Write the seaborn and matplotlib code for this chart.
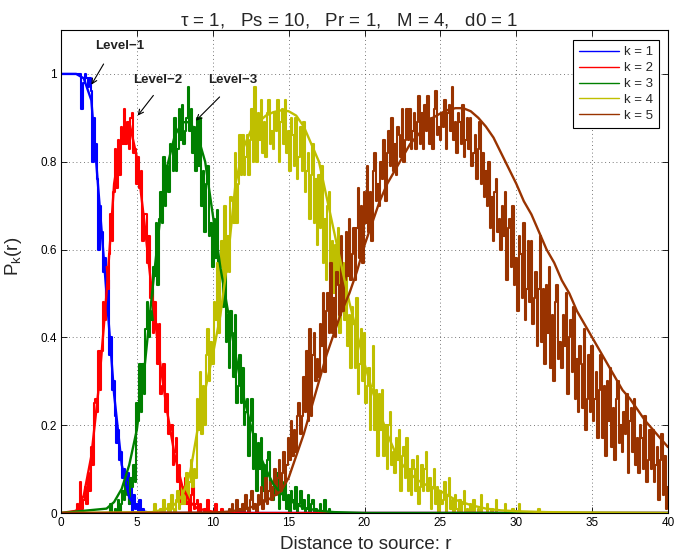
import numpy as np
import matplotlib
matplotlib.use('Agg')
import matplotlib.pyplot as plt
import seaborn as sns

# theory curves P_k(r)
r_th1 = [0, 0.5, 1, 1.5, 2, 2.5, 3, 3.5, 4, 4.5, 5, 5.5, 6, 40]
p_th1 = [1, 1, 1, 0.99, 0.94, 0.72, 0.50, 0.27, 0.11, 0.035, 0.01, 0.003, 0, 0]

r_th2 = [0, 1, 1.5, 2, 2.5, 3, 3.5, 4, 4.5, 5, 5.5, 6, 6.5, 7, 7.5, 8, 8.5, 9, 10, 11, 40]
p_th2 = [0, 0.005, 0.04, 0.13, 0.29, 0.50, 0.75, 0.86, 0.89, 0.81, 0.66, 0.50, 0.35, 0.23,
         0.13, 0.06, 0.025, 0.01, 0.003, 0, 0]

r_th3 = [0, 3, 3.5, 4, 4.5, 5, 5.5, 6, 6.5, 7, 7.5, 8, 8.5, 9, 9.5, 10, 10.5, 11, 11.5,
         12, 12.5, 13, 13.5, 14, 14.5, 15, 15.5, 16, 17, 18, 20, 40]
p_th3 = [0, 0.01, 0.025, 0.055, 0.11, 0.19, 0.33, 0.50, 0.66, 0.79, 0.86, 0.89, 0.89,
         0.86, 0.80, 0.68, 0.56, 0.46, 0.36, 0.27, 0.20, 0.14, 0.10, 0.065, 0.045, 0.03,
         0.02, 0.012, 0.005, 0.002, 0, 0]

r_th4 = [0, 6, 7, 7.5, 8, 8.5, 9, 9.5, 10, 10.5, 11, 11.5, 12, 12.5, 13, 13.5, 14, 14.5,
         15, 15.5, 16, 16.5, 17, 17.5, 18, 18.5, 19, 19.5, 20, 20.5, 21, 21.5, 22, 22.5,
         23, 23.5, 24, 24.5, 25, 26, 27, 28, 29, 30, 32, 35, 40]
p_th4 = [0, 0.002, 0.01, 0.02, 0.04, 0.09, 0.19, 0.28, 0.36, 0.45, 0.58, 0.75, 0.83,
         0.87, 0.89, 0.905, 0.913, 0.917, 0.915, 0.905, 0.88, 0.84, 0.80, 0.72, 0.64,
         0.56, 0.48, 0.41, 0.34, 0.28, 0.23, 0.18, 0.14, 0.11, 0.09, 0.075, 0.065, 0.057,
         0.05, 0.03, 0.018, 0.01, 0.006, 0.004, 0.002, 0.001, 0]

r_th5 = [0, 10, 11, 12, 13, 13.5, 14, 14.5, 15, 15.5, 16, 16.5, 17, 17.5, 18, 18.5, 19,
         19.5, 20, 20.5, 21, 21.5, 22, 22.5, 23, 23.5, 24, 24.5, 25, 25.5, 26, 26.5, 27,
         27.5, 28, 28.5, 29, 29.5, 30, 30.5, 31, 31.5, 32, 32.5, 33, 33.5, 34, 34.5, 35,
         35.5, 36, 36.5, 37, 37.5, 38, 38.5, 39, 39.5, 40]
p_th5 = [0, 0.001, 0.003, 0.008, 0.018, 0.027, 0.038, 0.05, 0.08, 0.13, 0.18, 0.24,
         0.30, 0.36, 0.41, 0.46, 0.50, 0.55, 0.61, 0.66, 0.71, 0.75, 0.78, 0.81, 0.84,
         0.86, 0.88, 0.90, 0.91, 0.918, 0.922, 0.922, 0.915, 0.90, 0.88, 0.855, 0.82,
         0.785, 0.75, 0.71, 0.68, 0.64, 0.60, 0.57, 0.53, 0.50, 0.46, 0.43, 0.40, 0.37,
         0.34, 0.31, 0.28, 0.26, 0.235, 0.21, 0.19, 0.17, 0.15]

# simulation curves, one sample every 0.1 starting at r_start (one row per unit of r)
sim_step = 0.1

r_start1 = 0.0
p_sim1 = [1, 1, 1, 1, 1, 1, 1, 1, 1, 1,
          1, 1, 1, 1, 0.92, 0.98, 1, 0.99, 0.97, 0.99,
          0.96, 0.80, 0.90, 0.84, 0.76, 0.60, 0.70, 0.64, 0.55, 0.58,
          0.46, 0.53, 0.36, 0.40, 0.28, 0.30, 0.22, 0.16, 0.19, 0.12,
          0.14, 0.08, 0.10, 0.05, 0.09, 0.02, 0.06, 0.0, 0.04, 0.01,
          0.02, 0.0, 0.03, 0.0, 0.01, 0.0, 0.0, 0.0, 0.0, 0.0,
          0.0]

r_start2 = 1.0
p_sim2 = [0.0, 0.02, 0.0, 0.07, 0.01, 0.03, 0.06, 0.02, 0.09, 0.05,
          0.15, 0.11, 0.25, 0.26, 0.23, 0.37, 0.28, 0.37, 0.48, 0.44,
          0.56, 0.51, 0.59, 0.68, 0.62, 0.73, 0.83, 0.74, 0.85, 0.77,
          0.88, 0.84, 0.92, 0.84, 0.89, 0.83, 0.90, 0.91, 0.82, 0.83,
          0.75, 0.81, 0.74, 0.78, 0.62, 0.68, 0.68, 0.57, 0.63, 0.49,
          0.51, 0.41, 0.48, 0.43, 0.34, 0.43, 0.27, 0.29, 0.34, 0.23,
          0.27, 0.18, 0.19, 0.20, 0.11, 0.14, 0.17, 0.07, 0.11, 0.02,
          0.06, 0.03, 0.08, 0.02, 0.05, 0.0, 0.04, 0.06, 0.01, 0.02,
          0.03, 0.0, 0.02, 0.0, 0.0, 0.01, 0.0, 0.03, 0.0, 0.0,
          0.0, 0.0, 0.02, 0.0, 0.0, 0.0, 0.01, 0.0, 0.0, 0.0,
          0.0]

r_start3 = 3.0
p_sim3 = [0.0, 0.0, 0.0, 0.02, 0.0, 0.0, 0.01, 0.0, 0.03, 0.0,
          0.02, 0.05, 0.03, 0.07, 0.04, 0.02, 0.08, 0.06, 0.11, 0.07,
          0.25, 0.21, 0.34, 0.23, 0.34, 0.27, 0.42, 0.48, 0.40, 0.46,
          0.44, 0.56, 0.54, 0.66, 0.52, 0.67, 0.73, 0.66, 0.81, 0.70,
          0.79, 0.73, 0.84, 0.83, 0.78, 0.90, 0.78, 0.83, 0.92, 0.85,
          0.93, 0.84, 0.87, 0.90, 0.97, 0.87, 0.92, 0.82, 0.88, 0.78,
          0.90, 0.79, 0.90, 0.70, 0.78, 0.64, 0.75, 0.79, 0.63, 0.66,
          0.56, 0.67, 0.58, 0.69, 0.44, 0.57, 0.61, 0.47, 0.60, 0.39,
          0.45, 0.33, 0.46, 0.41, 0.31, 0.45, 0.25, 0.29, 0.36, 0.25,
          0.33, 0.20, 0.23, 0.26, 0.13, 0.21, 0.26, 0.10, 0.18, 0.05,
          0.16, 0.10, 0.17, 0.05, 0.11, 0.03, 0.12, 0.14, 0.05, 0.06,
          0.03, 0.07, 0.05, 0.09, 0.01, 0.06, 0.07, 0.03, 0.07, 0.01,
          0.04, 0.0, 0.05, 0.03, 0.01, 0.06, 0.0, 0.02, 0.05, 0.01,
          0.03, 0.0, 0.01, 0.04, 0.0, 0.02, 0.03, 0.0, 0.01, 0.0,
          0.0, 0.02, 0.0, 0.0, 0.03, 0.0, 0.0, 0.01, 0.0, 0.0,
          0.0]

r_start4 = 6.0
p_sim4 = [0.0, 0.0, 0.02, 0.0, 0.0, 0.0, 0.01, 0.0, 0.03, 0.0,
          0.0, 0.02, 0.0, 0.04, 0.01, 0.0, 0.03, 0.05, 0.01, 0.02,
          0.06, 0.02, 0.04, 0.09, 0.03, 0.07, 0.12, 0.06, 0.10, 0.08,
          0.26, 0.19, 0.32, 0.18, 0.29, 0.20, 0.36, 0.42, 0.30, 0.39,
          0.34, 0.48, 0.44, 0.57, 0.41, 0.56, 0.62, 0.53, 0.70, 0.55,
          0.63, 0.55, 0.72, 0.71, 0.66, 0.82, 0.66, 0.75, 0.86, 0.77,
          0.86, 0.77, 0.81, 0.86, 0.77, 0.85, 0.92, 0.80, 0.97, 0.80,
          0.91, 0.85, 0.94, 0.82, 0.89, 0.81, 0.91, 0.94, 0.84, 0.87,
          0.83, 0.91, 0.87, 0.94, 0.80, 0.89, 0.92, 0.84, 0.94, 0.82,
          0.87, 0.78, 0.90, 0.86, 0.79, 0.90, 0.76, 0.81, 0.88, 0.78,
          0.89, 0.73, 0.78, 0.82, 0.67, 0.77, 0.84, 0.66, 0.76, 0.61,
          0.77, 0.65, 0.79, 0.57, 0.67, 0.53, 0.70, 0.73, 0.56, 0.62,
          0.50, 0.61, 0.53, 0.65, 0.41, 0.53, 0.57, 0.44, 0.57, 0.38,
          0.45, 0.33, 0.47, 0.43, 0.33, 0.49, 0.27, 0.34, 0.42, 0.30,
          0.41, 0.25, 0.29, 0.33, 0.19, 0.29, 0.38, 0.19, 0.28, 0.13,
          0.27, 0.19, 0.28, 0.13, 0.20, 0.10, 0.20, 0.23, 0.11, 0.14,
          0.09, 0.17, 0.12, 0.19, 0.05, 0.13, 0.15, 0.08, 0.17, 0.05,
          0.10, 0.04, 0.12, 0.10, 0.05, 0.13, 0.02, 0.06, 0.11, 0.05,
          0.10, 0.14, 0.05, 0.08, 0.01, 0.06, 0.10, 0.02, 0.06, 0.0,
          0.05, 0.02, 0.03, 0.07, 0.0, 0.04, 0.08, 0.01, 0.03, 0.0,
          0.04, 0.01, 0.0, 0.03, 0.0, 0.02, 0.05, 0.0, 0.01, 0.0,
          0.02, 0.0, 0.03, 0.0, 0.0, 0.01, 0.0, 0.04, 0.0, 0.0,
          0.0, 0.02, 0.0, 0.0, 0.01, 0.0, 0.0, 0.03, 0.0, 0.0,
          0.0, 0.0, 0.0, 0.02, 0.0, 0.0, 0.0, 0.0, 0.01, 0.0,
          0.0, 0.0, 0.02, 0.0, 0.0, 0.0, 0.0, 0.0, 0.0, 0.0,
          0.0, 0.0, 0.0, 0.0, 0.0, 0.01, 0.0, 0.0, 0.0, 0.0,
          0.0]

r_start5 = 11.0
p_sim5 = [0.0, 0.01, 0.0, 0.02, 0.0, 0.0, 0.03, 0.0, 0.01, 0.0,
          0.02, 0.0, 0.04, 0.01, 0.0, 0.03, 0.05, 0.01, 0.02, 0.0,
          0.04, 0.02, 0.06, 0.01, 0.03, 0.08, 0.02, 0.05, 0.07, 0.03,
          0.06, 0.10, 0.04, 0.08, 0.12, 0.05, 0.09, 0.14, 0.07, 0.11,
          0.17, 0.12, 0.21, 0.13, 0.19, 0.14, 0.22, 0.25, 0.18, 0.22,
          0.31, 0.23, 0.37, 0.21, 0.42, 0.22, 0.36, 0.41, 0.30, 0.35,
          0.31, 0.43, 0.38, 0.50, 0.32, 0.46, 0.50, 0.41, 0.57, 0.41,
          0.49, 0.40, 0.55, 0.52, 0.45, 0.63, 0.46, 0.53, 0.64, 0.54,
          0.67, 0.53, 0.59, 0.65, 0.53, 0.65, 0.74, 0.58, 0.70, 0.57,
          0.73, 0.66, 0.79, 0.64, 0.73, 0.62, 0.78, 0.82, 0.71, 0.75,
          0.70, 0.80, 0.76, 0.85, 0.71, 0.82, 0.87, 0.79, 0.90, 0.78,
          0.84, 0.77, 0.88, 0.86, 0.81, 0.92, 0.80, 0.85, 0.92, 0.85,
          0.92, 0.83, 0.87, 0.91, 0.83, 0.89, 0.95, 0.84, 0.91, 0.83,
          0.93, 0.87, 0.95, 0.84, 0.90, 0.83, 0.92, 0.96, 0.86, 0.88,
          0.85, 0.91, 0.88, 0.94, 0.83, 0.91, 0.93, 0.87, 0.97, 0.85,
          0.89, 0.82, 0.91, 0.89, 0.84, 0.93, 0.81, 0.85, 0.90, 0.83,
          0.90, 0.79, 0.82, 0.86, 0.76, 0.83, 0.89, 0.75, 0.82, 0.72,
          0.78, 0.70, 0.80, 0.65, 0.72, 0.62, 0.73, 0.76, 0.64, 0.67,
          0.60, 0.70, 0.63, 0.73, 0.53, 0.65, 0.67, 0.56, 0.70, 0.52,
          0.58, 0.46, 0.63, 0.59, 0.49, 0.66, 0.44, 0.51, 0.62, 0.48,
          0.62, 0.43, 0.49, 0.55, 0.38, 0.51, 0.63, 0.39, 0.51, 0.34,
          0.52, 0.41, 0.56, 0.33, 0.45, 0.30, 0.48, 0.52, 0.35, 0.39,
          0.33, 0.45, 0.38, 0.50, 0.27, 0.40, 0.44, 0.32, 0.47, 0.26,
          0.35, 0.23, 0.38, 0.34, 0.24, 0.42, 0.19, 0.26, 0.36, 0.23,
          0.38, 0.21, 0.26, 0.32, 0.17, 0.28, 0.36, 0.17, 0.29, 0.13,
          0.30, 0.21, 0.33, 0.15, 0.24, 0.12, 0.26, 0.30, 0.16, 0.20,
          0.14, 0.23, 0.18, 0.27, 0.09, 0.21, 0.24, 0.14, 0.26, 0.11,
          0.17, 0.09, 0.20, 0.17, 0.10, 0.22, 0.07, 0.12, 0.19, 0.10,
          0.19, 0.07, 0.11, 0.15, 0.03, 0.12, 0.18, 0.04, 0.13, 0.01,
          0.06]

labels = ['k = 1', 'k = 2', 'k = 3', 'k = 4', 'k = 5']
colors = ['#0000ff', '#ff0000', '#008000', '#bfbf00', '#993300']

theory = [(r_th1, p_th1), (r_th2, p_th2), (r_th3, p_th3), (r_th4, p_th4), (r_th5, p_th5)]
sims = [(r_start1, p_sim1), (r_start2, p_sim2), (r_start3, p_sim3),
        (r_start4, p_sim4), (r_start5, p_sim5)]

sns.set_style('ticks')
plt.rcParams['font.family'] = ['Liberation Sans', 'DejaVu Sans']
plt.rcParams['mathtext.default'] = 'regular'

fig = plt.figure(figsize=(6.76, 5.58), dpi=100)
ax = fig.add_axes([61 / 676, 45 / 558, 607 / 676, 483 / 558])

# simulation first (thin, noisy), then theory on top
for (r0, p), c, lab in zip(sims, colors, labels):
    r = np.round(r0 + sim_step * np.arange(len(p)), 2)
    sns.lineplot(x=r, y=p, ax=ax, color=c, linewidth=1.5, drawstyle='steps-mid',
                 estimator=None, sort=False, label=lab, legend=False)

for (r, p), c in zip(theory, colors):
    sns.lineplot(x=r, y=p, ax=ax, color=c, linewidth=1.7,
                 estimator=None, sort=False, legend=False)

ax.set_xlim(0, 40)
ax.set_ylim(0, 1.1)
ax.set_xticks(np.arange(0, 41, 5))
ax.set_yticks([0, 0.2, 0.4, 0.6, 0.8, 1.0])
ax.set_yticklabels(['0', '0.2', '0.4', '0.6', '0.8', '1'])
ax.tick_params(direction='in', length=4, width=0.6, top=True, right=True,
               labelsize=8.5, colors='black', pad=3)
for s in ax.spines.values():
    s.set_visible(True)
    s.set_linewidth(0.8)
    s.set_color('black')
ax.grid(True, linestyle=(0, (1, 3.5)), color='0.3', linewidth=0.6)
ax.set_axisbelow(True)

# labels
fig.text(349 / 676, 1 - 26 / 558, r'$\tau$ = 1,   Ps = 10,   Pr = 1,   M = 4,   d0 = 1',
         ha='center', va='baseline', fontsize=13.5)
fig.text(365.5 / 676, 1 - 549 / 558, 'Distance to source: r', ha='center',
         va='baseline', fontsize=13.5)
fig.text(14 / 676, 1 - 256 / 558, r'$P_k(r)$', rotation=90, ha='center',
         va='center', fontsize=13.5)

# arrows with level labels
arrow_kw = dict(arrowstyle='->', color='black', lw=0.8, mutation_scale=9)
ax.annotate('', xy=(1.91, 0.97), xytext=(2.9, 1.028), arrowprops=arrow_kw)
ax.annotate('', xy=(4.94, 0.90), xytext=(6.2, 0.956), arrowprops=arrow_kw)
ax.annotate('', xy=(8.76, 0.889), xytext=(10.58, 0.952), arrowprops=arrow_kw)
level_kw = dict(fontsize=9.5, fontweight='bold', va='center', color='#222222')
ax.text(2.24, 1.064, 'Level\u22121', **level_kw)
ax.text(4.74, 0.986, 'Level\u22122', **level_kw)
ax.text(9.68, 0.986, 'Level\u22123', **level_kw)

ax.legend(loc='upper right', bbox_to_anchor=(0.985, 0.979), fontsize=9.5,
          handlelength=3.0, frameon=True, fancybox=False, edgecolor='black',
          framealpha=1, borderpad=0.45, labelspacing=0.28, handletextpad=0.4,
          borderaxespad=0)
ax.get_legend().get_frame().set_linewidth(0.8)
for line in ax.get_legend().get_lines():
    line.set_linewidth(1.0)

fig.savefig('out.png', dpi=100)
